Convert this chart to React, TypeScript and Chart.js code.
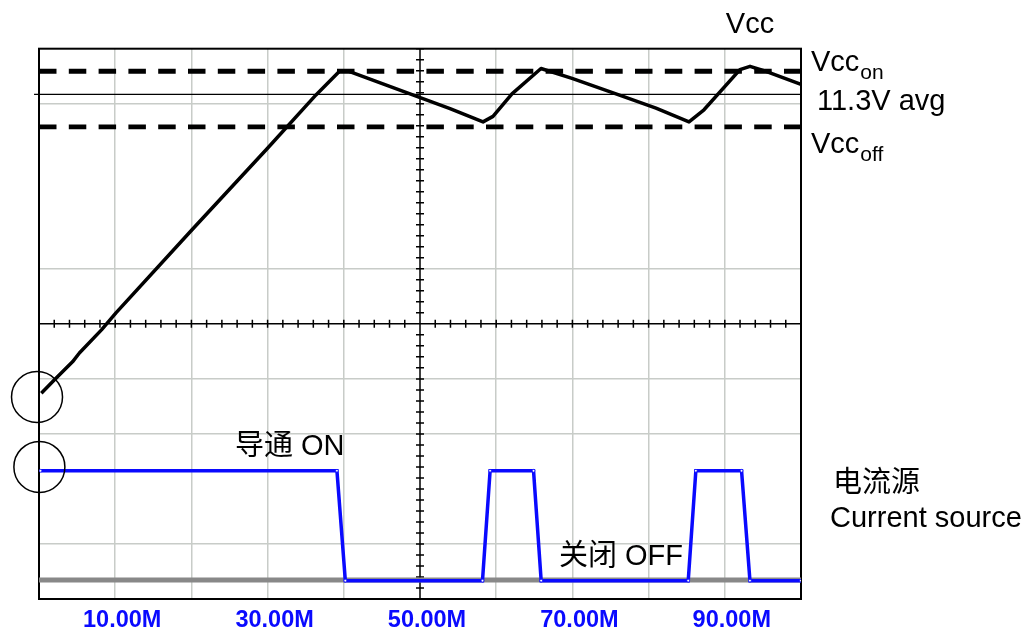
import React, { useEffect, useRef } from 'react';
import { Chart, registerables } from 'chart.js';
Chart.register(...registerables);

// ---- Data (time in "M" units, vertical in screen divisions 0..10) ----
const vccTime = [0.3, 2.0, 4.4, 5.3, 8.2, 10.1, 20.08, 30.05, 36.35, 39.5, 40.42, 53.94, 58.27, 59.58, 62.07, 65.88, 69.95, 75.72, 80.97, 85.3, 87.27, 91.99, 93.31, 95.14, 100];
const vccLevel = [3.74, 3.98, 4.31, 4.47, 4.89, 5.2, 6.71, 8.2, 9.16, 9.6, 9.6, 8.91, 8.67, 8.77, 9.18, 9.64, 9.46, 9.18, 8.92, 8.67, 8.89, 9.62, 9.68, 9.6, 9.35];

const srcTime = [0.2, 39.1, 40.2, 58.2, 59.2, 64.9, 65.9, 85.2, 86.2, 92.2, 93.3, 100];
const srcLevel = [2.33, 2.33, 0.333, 0.333, 2.33, 2.33, 0.333, 0.333, 2.33, 2.33, 0.333, 0.333];

const VCC_ON = 9.59;
const VCC_OFF = 8.58;
const VCC_AVG = 9.17;
const GROUND = 0.345;

const circleTime = [-0.26, 0.05];
const circleLevel = [3.67, 2.4];

const xTickValues = [10, 30, 50, 70, 90];
const xTickLabels = ['10.00M', '30.00M', '50.00M', '70.00M', '90.00M'];
const hiddenYGrid = [0, 2, 5, 7, 8, 10];
const hiddenXGrid = [0, 50, 100];

const FONT = '"Liberation Sans", Arial, "Noto Sans CJK SC", sans-serif';
const GRID = 'rgb(200,204,200)';
const BLUE = '#0a0aff';

const pts = (xs: number[], ys: number[]) => xs.map((x, i) => ({ x, y: ys[i] }));
const hline = (v: number, x0 = 0, x1 = 100) => [{ x: x0, y: v }, { x: x1, y: v }];

const decorPlugin = {
  id: 'decor',
  beforeDatasetsDraw(chart: any) {
    const { ctx, chartArea: a, scales } = chart;
    const xs = scales.x, ys = scales.y;
    const cx = xs.getPixelForValue(50);
    const cy = ys.getPixelForValue(5);
    ctx.save();
    ctx.strokeStyle = '#000';
    ctx.lineWidth = 1.5;
    ctx.beginPath();
    ctx.moveTo(a.left, cy); ctx.lineTo(a.right, cy);
    ctx.moveTo(cx, a.top); ctx.lineTo(cx, a.bottom);
    for (let t = 2; t < 100; t += 2) {
      const px = xs.getPixelForValue(t);
      ctx.moveTo(px, cy - 4); ctx.lineTo(px, cy + 4);
    }
    for (let v = 0.2; v < 10; v += 0.2) {
      const py = ys.getPixelForValue(v);
      ctx.moveTo(cx - 4, py); ctx.lineTo(cx + 4, py);
    }
    ctx.stroke();
    ctx.lineWidth = 2;
    ctx.strokeRect(a.left, a.top, a.right - a.left, a.bottom - a.top);
    ctx.restore();
  },
  afterDraw(chart: any) {
    const { ctx } = chart;
    ctx.save();
    ctx.fillStyle = '#000';
    ctx.textBaseline = 'alphabetic';
    const big = `29px ${FONT}`;
    const sub = `21px ${FONT}`;
    const txt = (s: string, x: number, y: number, f: string, align: CanvasTextAlign = 'left') => {
      ctx.font = f; ctx.textAlign = align; ctx.fillText(s, x, y);
      return ctx.measureText(s).width;
    };
    txt('Vcc', 750, 33, big, 'center');
    let w = txt('Vcc', 811, 71, big);
    txt('on', 811 + w + 1, 79, sub);
    txt('11.3V avg', 817, 110, big);
    w = txt('Vcc', 811, 153, big);
    txt('off', 811 + w + 1, 161, sub);
    txt('导通 ON', 235, 455, big);
    txt('关闭 OFF', 559, 565, big);
    txt('电流源', 833, 492, big);
    txt('Current source', 830, 527, big);
    ctx.restore();
  },
};

export default function App() {
  const ref = useRef<HTMLCanvasElement>(null);
  useEffect(() => {
    if (!ref.current) return;
    const chart = new Chart(ref.current, {
      type: 'scatter',
      data: {
        datasets: [
          { data: hline(GROUND), showLine: true, borderColor: '#888', borderWidth: 5, pointRadius: 0, order: 6 },
          { data: hline(VCC_AVG, -0.65, 100), showLine: true, borderColor: '#000', borderWidth: 1.3, pointRadius: 0, clip: false as any, order: 5 },
          { data: hline(VCC_ON), showLine: true, borderColor: '#000', borderWidth: 4.8, borderDash: [17.5, 12.3], pointRadius: 0, order: 4 },
          { data: hline(VCC_OFF), showLine: true, borderColor: '#000', borderWidth: 4.8, borderDash: [17.5, 12.3], pointRadius: 0, order: 3 },
          { data: pts(vccTime, vccLevel), showLine: true, borderColor: '#000', borderWidth: 3.5, pointRadius: 0, borderJoinStyle: 'round', order: 2 },
          { data: pts(srcTime, srcLevel), showLine: true, borderColor: BLUE, borderWidth: 3.5, pointRadius: 1.4, pointBackgroundColor: '#fff', pointBorderColor: BLUE, pointBorderWidth: 0.8, order: 1 },
          { data: pts(circleTime, circleLevel), showLine: false, pointRadius: 25.5, pointStyle: 'circle', borderColor: '#000', borderWidth: 1.5, backgroundColor: 'rgba(0,0,0,0)', clip: false as any, order: 0 },
        ] as any,
      },
      options: {
        animation: false,
        responsive: false,
        devicePixelRatio: 1,
        events: [],
        layout: { padding: { left: 39, right: 224, top: 48.7, bottom: 0 } },
        plugins: { legend: { display: false }, tooltip: { enabled: false } },
        scales: {
          x: {
            type: 'linear', min: 0, max: 100,
            afterFit: (s: any) => { s.height = 30; },
            border: { display: false },
            grid: {
              drawTicks: false, lineWidth: 1.5,
              color: (c: any) => (hiddenXGrid.includes(c.tick?.value) ? 'rgba(0,0,0,0)' : GRID),
            },
            ticks: {
              stepSize: 10, autoSkip: false, maxRotation: 0, padding: 7, labelOffset: 7,
              color: BLUE, font: { family: FONT, size: 23.5, weight: 'bold' },
              callback: (v: any) => { const i = xTickValues.indexOf(Number(v)); return i >= 0 ? xTickLabels[i] : ''; },
            },
          },
          y: {
            type: 'linear', min: 0, max: 10,
            afterFit: (s: any) => { s.width = 0; },
            border: { display: false },
            grid: {
              drawTicks: false, lineWidth: 1.5,
              color: (c: any) => (hiddenYGrid.includes(Math.round(c.tick?.value * 100) / 100) ? 'rgba(0,0,0,0)' : GRID),
            },
            ticks: { stepSize: 1, display: false },
          },
        },
      } as any,
      plugins: [decorPlugin],
    });
    return () => chart.destroy();
  }, []);
  return (
    <div style={{ position: 'absolute', left: 0, top: 0, width: 1025, height: 629, background: '#fff' }}>
      <canvas ref={ref} width={1025} height={629} style={{ width: 1025, height: 629, display: 'block' }} />
    </div>
  );
}
